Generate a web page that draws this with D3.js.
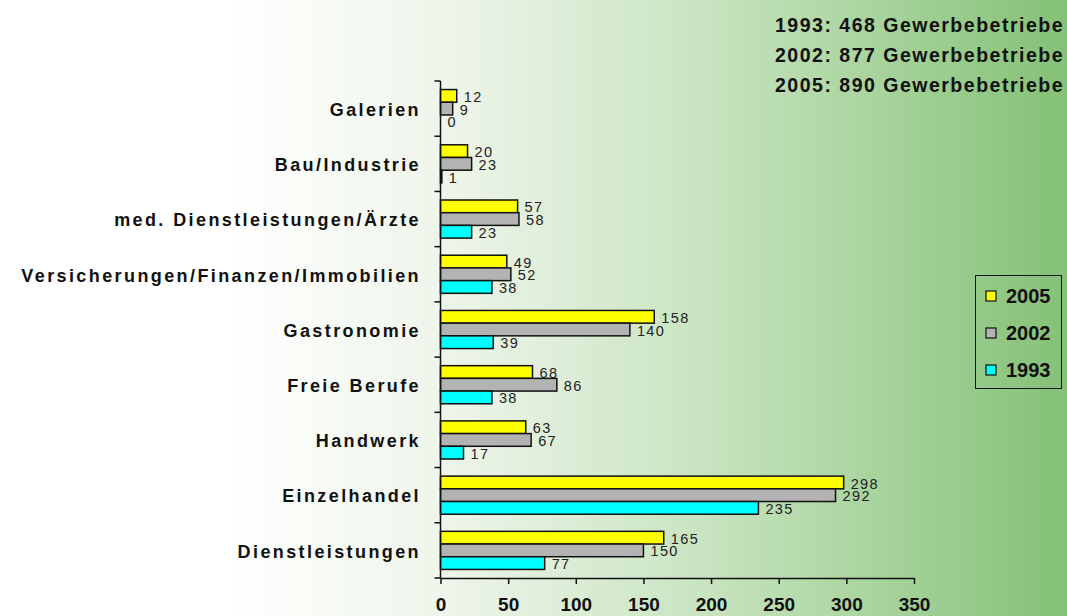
<!DOCTYPE html>
<html>
<head>
<meta charset="utf-8">
<script src="https://cdn.jsdelivr.net/npm/d3@7"></script>
<style>
  body { margin: 0; background: #fff; }
  svg { display: block; font-family: "Liberation Sans", Arial, sans-serif; }
</style>
</head>
<body>
<div id="chart"></div>
<script>
const W = 1067, H = 616;

// Daten
const categories = ["Galerien", "Bau/Industrie", "med. Dienstleistungen/Ärzte",
  "Versicherungen/Finanzen/Immobilien", "Gastronomie", "Freie Berufe",
  "Handwerk", "Einzelhandel", "Dienstleistungen"];
const years = ["2005", "2002", "1993"];
const v2005 = [12, 20, 57, 49, 158, 68, 63, 298, 165];
const v2002 = [9, 23, 58, 52, 140, 86, 67, 292, 150];
const v1993 = [0, 1, 23, 38, 39, 38, 17, 235, 77];
const xTicks = [0, 50, 100, 150, 200, 250, 300, 350];
const totals = ["1993: 468 Gewerbebetriebe", "2002: 877 Gewerbebetriebe", "2005: 890 Gewerbebetriebe"];
const colors = { "2005": "#ffff00", "2002": "#b3b3b3", "1993": "#00ffff" };

const series = { "2005": v2005, "2002": v2002, "1993": v1993 };

const svg = d3.select("#chart").append("svg")
  .attr("width", W).attr("height", H);

// Hintergrund-Verlauf
const grad = svg.append("defs").append("linearGradient")
  .attr("id", "bg").attr("gradientUnits", "userSpaceOnUse")
  .attr("x1", 0).attr("x2", W).attr("y1", 0).attr("y2", 0);
[[0, "#ffffff"], [0.21, "#ffffff"], [0.42, "#eef5ea"], [0.66, "#c8e4c0"], [1, "#84c176"]]
  .forEach(([o, c]) => grad.append("stop").attr("offset", o).attr("stop-color", c));
svg.append("rect").attr("width", W).attr("height", H).attr("fill", "url(#bg)");

const x = d3.scaleLinear().domain([0, 350]).range([440.5, 914]);
const y = d3.scaleBand().domain(categories).range([81, 578]).paddingInner(0.31).paddingOuter(0.155);
const yb = d3.scaleBand().domain(years).range([0, y.bandwidth()]);

// Balken
const groups = svg.append("g").selectAll("g")
  .data(categories)
  .join("g")
  .attr("transform", d => `translate(0,${y(d)})`);

years.forEach(yr => {
  groups.append("rect")
    .attr("x", x(0))
    .attr("y", yb(yr))
    .attr("width", (d, i) => x(series[yr][i]) - x(0))
    .attr("height", yb.bandwidth())
    .attr("fill", colors[yr])
    .attr("stroke", (d, i) => series[yr][i] > 0 ? "#111" : "none")
    .attr("stroke-width", 1.5);
  groups.append("text")
    .attr("x", (d, i) => x(series[yr][i]) + 7)
    .attr("y", yb(yr) + yb.bandwidth() / 2 + 1)
    .attr("dy", "0.35em")
    .attr("font-size", 14.5)
    .attr("letter-spacing", 1.4)
    .attr("fill", "#222")
    .text((d, i) => series[yr][i]);
});

// Y-Achse mit Ticks an Kategoriegrenzen
const yAxis = svg.append("g");
yAxis.append("line").attr("x1", x(0)).attr("x2", x(0)).attr("y1", 81).attr("y2", 578)
  .attr("stroke", "#111").attr("stroke-width", 1.5);
yAxis.selectAll("line.tick")
  .data(d3.range(categories.length + 1))
  .join("line").attr("class", "tick")
  .attr("x1", x(0) - 6).attr("x2", x(0))
  .attr("y1", i => 81 + i * (497 / categories.length))
  .attr("y2", i => 81 + i * (497 / categories.length))
  .attr("stroke", "#111").attr("stroke-width", 1.5);

yAxis.selectAll("text")
  .data(categories)
  .join("text")
  .attr("x", 421)
  .attr("y", d => y(d) + y.bandwidth() / 2 + 1)
  .attr("dy", "0.35em")
  .attr("text-anchor", "end")
  .attr("font-size", 18)
  .attr("font-weight", "bold")
  .attr("letter-spacing", 2.4)
  .attr("fill", "#111")
  .text(d => d);

// X-Achse
const xAxis = svg.append("g")
  .attr("transform", "translate(0,578)")
  .call(d3.axisBottom(x).tickValues(xTicks).tickSize(6).tickPadding(14).tickSizeOuter(0));
xAxis.select(".domain").attr("stroke", "#111").attr("stroke-width", 1.5);
xAxis.selectAll(".tick line").attr("stroke", "#111").attr("stroke-width", 1.5);
xAxis.selectAll(".tick text")
  .attr("font-size", 19).attr("font-weight", "bold").attr("fill", "#111")
  .attr("font-family", "Liberation Sans, Arial, sans-serif");

// Summen oben rechts
svg.append("g").selectAll("text")
  .data(totals)
  .join("text")
  .attr("x", 1064)
  .attr("y", (d, i) => 25 + i * 30)
  .attr("dy", "0.35em")
  .attr("text-anchor", "end")
  .attr("font-size", 19.5)
  .attr("font-weight", "bold")
  .attr("letter-spacing", 1.5)
  .attr("fill", "#111")
  .text(d => d);

// Legende
const leg = svg.append("g");
leg.append("rect").attr("x", 975.5).attr("y", 275.5).attr("width", 86).attr("height", 113)
  .attr("fill", "none").attr("stroke", "#111").attr("stroke-width", 1);
const li = leg.selectAll("g.item").data(years).join("g").attr("class", "item")
  .attr("transform", (d, i) => `translate(986,${296 + i * 37})`);
li.append("rect").attr("x", 0).attr("y", -5).attr("width", 10).attr("height", 10)
  .attr("fill", d => colors[d]).attr("stroke", "#111").attr("stroke-width", 1.2);
li.append("text").attr("x", 20).attr("dy", "0.36em")
  .attr("font-size", 20).attr("font-weight", "bold").attr("fill", "#111")
  .text(d => d);
</script>
</body>
</html>
